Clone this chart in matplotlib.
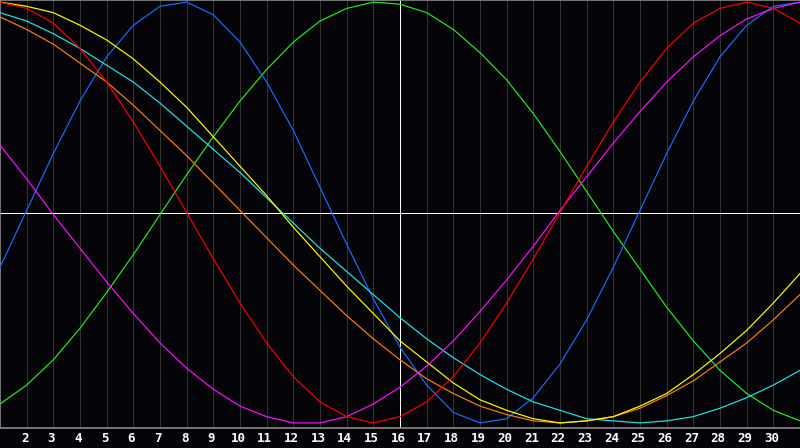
import matplotlib
matplotlib.use('Agg')
import matplotlib.pyplot as plt

# days shown on the chart
days = list(range(1, 32))
tick_days = list(range(2, 31))
today = 16

# cycle values per day (-100 .. 100)
physical = [-26, 1, 28, 53, 74, 89, 98, 100, 94, 81, 62, 39, 12, -15, -41, -64,
            -82, -95, -100, -98, -88, -72, -51, -26, 1, 28, 53, 74, 89, 98, 100]
emotional = [100, 97, 90, 78, 62, 43, 22, 0, -22, -43, -62, -78, -90, -97, -100, -97,
             -90, -78, -62, -43, -22, 0, 22, 43, 62, 78, 90, 97, 100, 97, 90]
intellectual = [-91, -82, -70, -55, -38, -20, -1, 18, 36, 53, 68, 81, 91, 97, 100, 99,
                95, 87, 76, 63, 47, 29, 10, -9, -27, -45, -61, -75, -86, -94, -99]
intuitive = [32, 16, -1, -17, -33, -48, -62, -74, -84, -92, -97, -100, -100, -97, -91, -83,
             -73, -61, -47, -32, -16, 1, 17, 33, 48, 62, 74, 84, 92, 97, 100]
aesthetic = [100, 98, 95, 89, 82, 73, 62, 50, 36, 22, 8, -7, -21, -35, -48, -61,
             -71, -81, -89, -94, -98, -100, -99, -97, -92, -86, -77, -67, -56, -43, -29]
awareness = [93, 87, 80, 71, 62, 51, 39, 27, 14, 1, -12, -25, -37, -49, -60, -70,
             -79, -86, -92, -96, -99, -100, -99, -97, -93, -87, -80, -71, -62, -51, -39]
spiritual = [95, 91, 85, 78, 70, 62, 52, 41, 30, 19, 7, -5, -17, -28, -39, -50,
             -60, -69, -77, -84, -90, -94, -98, -99, -100, -99, -97, -93, -88, -82, -75]

series = [
    (intellectual, '#22ee22'),
    (physical, '#1a6cff'),
    (awareness, '#ff7f10'),
    (spiritual, '#22e6e6'),
    (aesthetic, '#ffff00'),
    (intuitive, '#ff10ff'),
    (emotional, '#ff0000'),
]

bg = '#050509'
px = 0.72  # one pixel in points at 100 dpi
fig = plt.figure(figsize=(8, 4.48), dpi=100, facecolor=bg)
ax = fig.add_axes([0, 20 / 448, 1, 428 / 448], facecolor=bg)

for d in tick_days:
    ax.axvline(d, color='#333333', lw=px, zorder=1, antialiased=False)
ax.axvline(today, color='white', lw=px, zorder=2, antialiased=False)
ax.axhline(0, color='white', lw=px, zorder=2, antialiased=False)

for values, color in series:
    ax.plot(days, values, color=color, lw=0.85, zorder=3)

ax.set_xlim(1, 31)
ax.set_ylim(-102.4, 101)
ax.set_xticks([])
ax.set_yticks([])
for side in ['top', 'left', 'bottom']:
    ax.spines[side].set_color('#8a8a8a')
    ax.spines[side].set_linewidth(1.2)
ax.spines['right'].set_visible(False)

for d in tick_days:
    fig.text((d - 1) / 30 - 2 / 800, 10 / 448, str(d), color='white', ha='center',
             va='center', fontsize=9, fontweight='bold', family='DejaVu Sans Mono')

fig.savefig('out.png', dpi=100, facecolor=bg)
